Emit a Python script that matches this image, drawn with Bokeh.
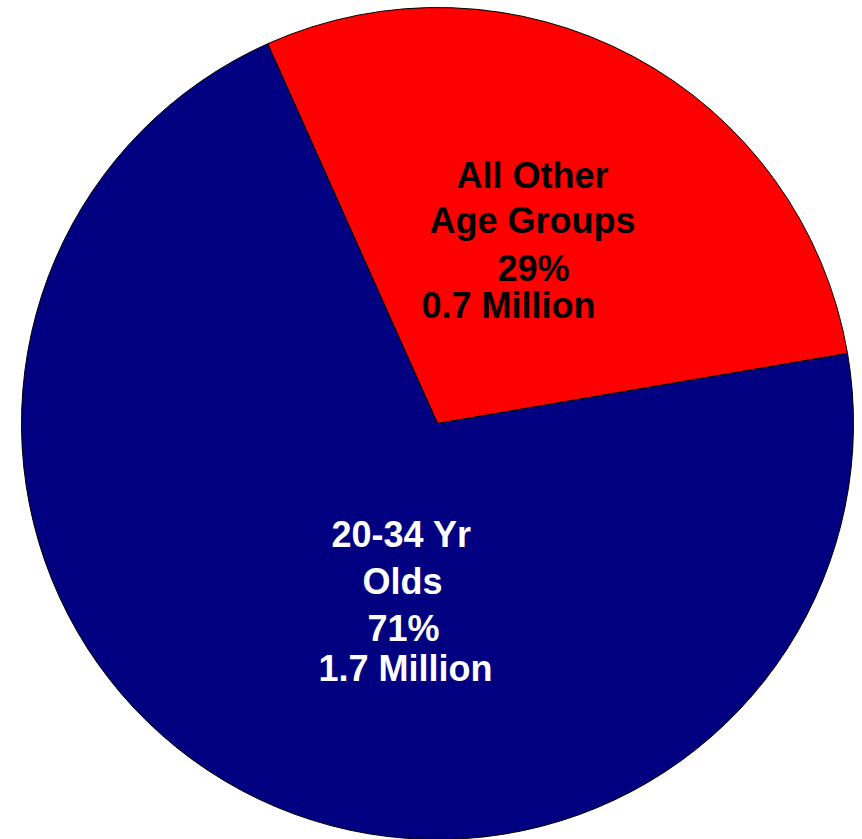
import numpy as np
from bokeh.plotting import figure
from bokeh.models import ColumnDataSource, Range1d
from bokeh.core.properties import value
from bokeh.embed import file_html
from bokeh.resources import INLINE

# data
groups = ["All Other Age Groups", "20-34 Yr Olds"]
shares = [29, 71]            # percent
millions = [0.7, 1.7]        # million
colors = ["#FF0000", "#000080"]
label_colors = ["black", "white"]

start_deg = 9.7  # where the first slice begins (counter-clockwise from 3 o'clock)

fracs = np.array(shares, dtype=float) / sum(shares)
ends = np.radians(start_deg) + np.cumsum(fracs) * 2 * np.pi
starts = ends - fracs * 2 * np.pi

R = 416
p = figure(width=854, height=839, output_backend="svg", toolbar_location=None,
           x_range=Range1d(-437, 417), y_range=Range1d(-416, 423),
           min_border=0)
p.axis.visible = False
p.grid.visible = False
p.outline_line_color = None
p.background_fill_color = "white"

src = ColumnDataSource(dict(start=starts, end=ends, color=colors, group=groups))
p.wedge(x=0, y=0, radius=R, start_angle="start", end_angle="end",
        fill_color="color", line_color="black", line_width=1, source=src)

# label lines (built from data)
red_lines = ["All Other", "Age Groups", f"{shares[0]}%", f"{millions[0]} Million"]
red_pos = [(95, 248), (95, 203), (96, 155), (71, 118)]
blue_lines = ["20-34 Yr", "Olds", f"{shares[1]}%", f"{millions[1]} Million"]
blue_pos = [(-36, -111), (-35, -158), (-34, -205), (-32, -245)]

for lines, pos, col in [(red_lines, red_pos, label_colors[0]), (blue_lines, blue_pos, label_colors[1])]:
    p.text(x=[q[0] for q in pos], y=[q[1] for q in pos], text=lines,
           text_font=value("Liberation Sans"), text_font_style="bold",
           text_font_size="36px", text_color=col,
           text_align="center", text_baseline="alphabetic")

open("out.html", "w").write(file_html(p, INLINE))
